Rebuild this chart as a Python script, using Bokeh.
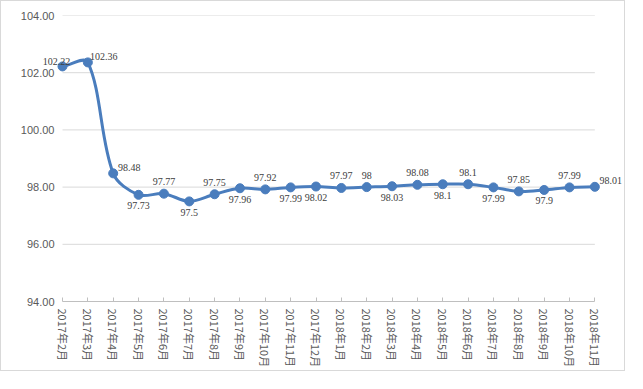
import math
from bokeh.plotting import figure
from bokeh.models import ColumnDataSource, LabelSet, FixedTicker, Range1d, NumeralTickFormatter
from bokeh.embed import file_html
from bokeh.resources import INLINE

# ---- data ----
months = ["2017年2月", "2017年3月", "2017年4月", "2017年5月", "2017年6月", "2017年7月",
          "2017年8月", "2017年9月", "2017年10月", "2017年11月", "2017年12月",
          "2018年1月", "2018年2月", "2018年3月", "2018年4月", "2018年5月", "2018年6月",
          "2018年7月", "2018年8月", "2018年9月", "2018年10月", "2018年11月"]
values = [102.22, 102.36, 98.48, 97.73, 97.77, 97.5, 97.75, 97.96, 97.92, 97.99, 98.02,
          97.97, 98, 98.03, 98.08, 98.1, 98.1, 97.99, 97.85, 97.9, 97.99, 98.01]
label_text = ["102.22", "102.36", "98.48", "97.73", "97.77", "97.5", "97.75", "97.96", "97.92",
              "97.99", "98.02", "97.97", "98", "98.03", "98.08", "98.1", "98.1", "97.99",
              "97.85", "97.9", "97.99", "98.01"]
y_ticks = [94, 96, 98, 100, 102, 104]

# label placement (style)
placement = ["left", "right", "right", "below", "above", "below", "above", "below", "above",
             "below", "below", "above", "above", "below", "above", "below", "above", "below",
             "above", "below", "above", "right"]
offs = {"left": (-6, 5), "right": (16, 6), "above": (0, 12), "below": (0, -11)}

BLUE = "#4a7dbd"
GRID = "#d9d9d9"

n = len(values)
xs = list(range(n))

# ---- layout (pixels) ----
W, H = 625, 371
FL, FW = 39, 585          # frame left / width
FT, FH = 14, 286          # frame top / height
SX = 25.35                # px per category
SY = FH / (y_ticks[-1] - y_ticks[0])
x0r = -(61 - FL) / SX
x1r = x0r + FW / SX

p = figure(width=W, height=H, output_backend="svg", toolbar_location=None,
           x_range=Range1d(x0r, x1r), y_range=Range1d(y_ticks[0], y_ticks[-1]),
           min_border_left=FL, min_border_right=W - FL - FW, min_border_top=FT,
           min_border_bottom=H - FT - FH)
p.outline_line_color = None
p.background_fill_color = "white"
p.border_fill_color = "white"
p.xgrid.visible = False
p.ygrid.visible = False
p.styles = {"border": "1px solid #d9d9d9"}

# horizontal gridlines spanning first to last category
gy = y_ticks[1:]
p.segment(x0=[0] * len(gy), x1=[n - 1] * len(gy), y0=gy, y1=gy, line_color=GRID, line_width=1)

# smoothed line (Excel-like, distance-weighted bezier in screen space)
def scr(i):
    i = max(0, min(n - 1, i))
    return xs[i] * SX, values[i] * SY

T = 1.0 / 3.0
cb, ca = [], []   # control point before / after each point (screen)
for i in range(n):
    p0, p1, p2 = scr(i - 1), scr(i), scr(i + 1)
    d01 = math.hypot(p1[0] - p0[0], p1[1] - p0[1])
    d12 = math.hypot(p2[0] - p1[0], p2[1] - p1[1])
    s = d01 + d12 if d01 + d12 > 0 else 1
    dx, dy = p2[0] - p0[0], p2[1] - p0[1]
    fa, fb = T * d01 / s, T * d12 / s
    cb.append((p1[0] - fa * dx, p1[1] - fa * dy))
    ca.append((p1[0] + fb * dx, p1[1] + fb * dy))

bx0, by0, bx1, by1, cx0, cy0, cx1, cy1 = [], [], [], [], [], [], [], []
for i in range(n - 1):
    bx0.append(xs[i]); by0.append(values[i]); bx1.append(xs[i + 1]); by1.append(values[i + 1])
    cx0.append(ca[i][0] / SX); cy0.append(ca[i][1] / SY)
    cx1.append(cb[i + 1][0] / SX); cy1.append(cb[i + 1][1] / SY)
p.bezier(x0=bx0, y0=by0, x1=bx1, y1=by1, cx0=cx0, cy0=cy0, cx1=cx1, cy1=cy1,
         line_color=BLUE, line_width=3, line_cap="round")

p.scatter(xs, values, size=9, fill_color=BLUE, line_color=BLUE)

src = ColumnDataSource(dict(x=xs, y=values, t=label_text,
                            dx=[offs[k][0] for k in placement], dy=[offs[k][1] for k in placement]))
labels = LabelSet(x="x", y="y", text="t", source=src, x_offset="dx", y_offset="dy",
                  text_align="center", text_baseline="middle", text_font="Liberation Sans",
                  text_font_size="10px", text_color="#404040")
p.add_layout(labels)

# y axis
p.yaxis.ticker = FixedTicker(ticks=y_ticks)
p.yaxis.formatter = NumeralTickFormatter(format="0.00")
p.yaxis.axis_line_color = None
p.yaxis.major_tick_line_color = None
p.yaxis.major_tick_in = 0
p.yaxis.major_tick_out = 0
p.yaxis.minor_tick_line_color = None
p.yaxis.major_label_standoff = -(53 - FL)
p.yaxis.major_label_text_font = "Liberation Sans"
p.yaxis.major_label_text_font_size = "11px"
p.yaxis.major_label_text_color = "#595959"

# x axis
p.xaxis.ticker = FixedTicker(ticks=xs)
p.xaxis.major_label_overrides = {i: m for i, m in enumerate(months)}
p.xaxis.bounds = (0, n - 1)
p.xaxis.axis_line_color = "#bfbfbf"
p.xaxis.major_tick_line_color = "#bfbfbf"
p.xaxis.major_tick_in = 4
p.xaxis.major_tick_out = 0
p.xaxis.minor_tick_line_color = None
p.xaxis.major_label_orientation = -math.pi / 2
p.xaxis.major_label_standoff = 7
p.xaxis.major_label_text_font = "Noto Sans CJK SC"
p.xaxis.major_label_text_font_size = "11px"
p.xaxis.major_label_text_color = "#595959"

open("out.html", "w").write(file_html(p, INLINE))
